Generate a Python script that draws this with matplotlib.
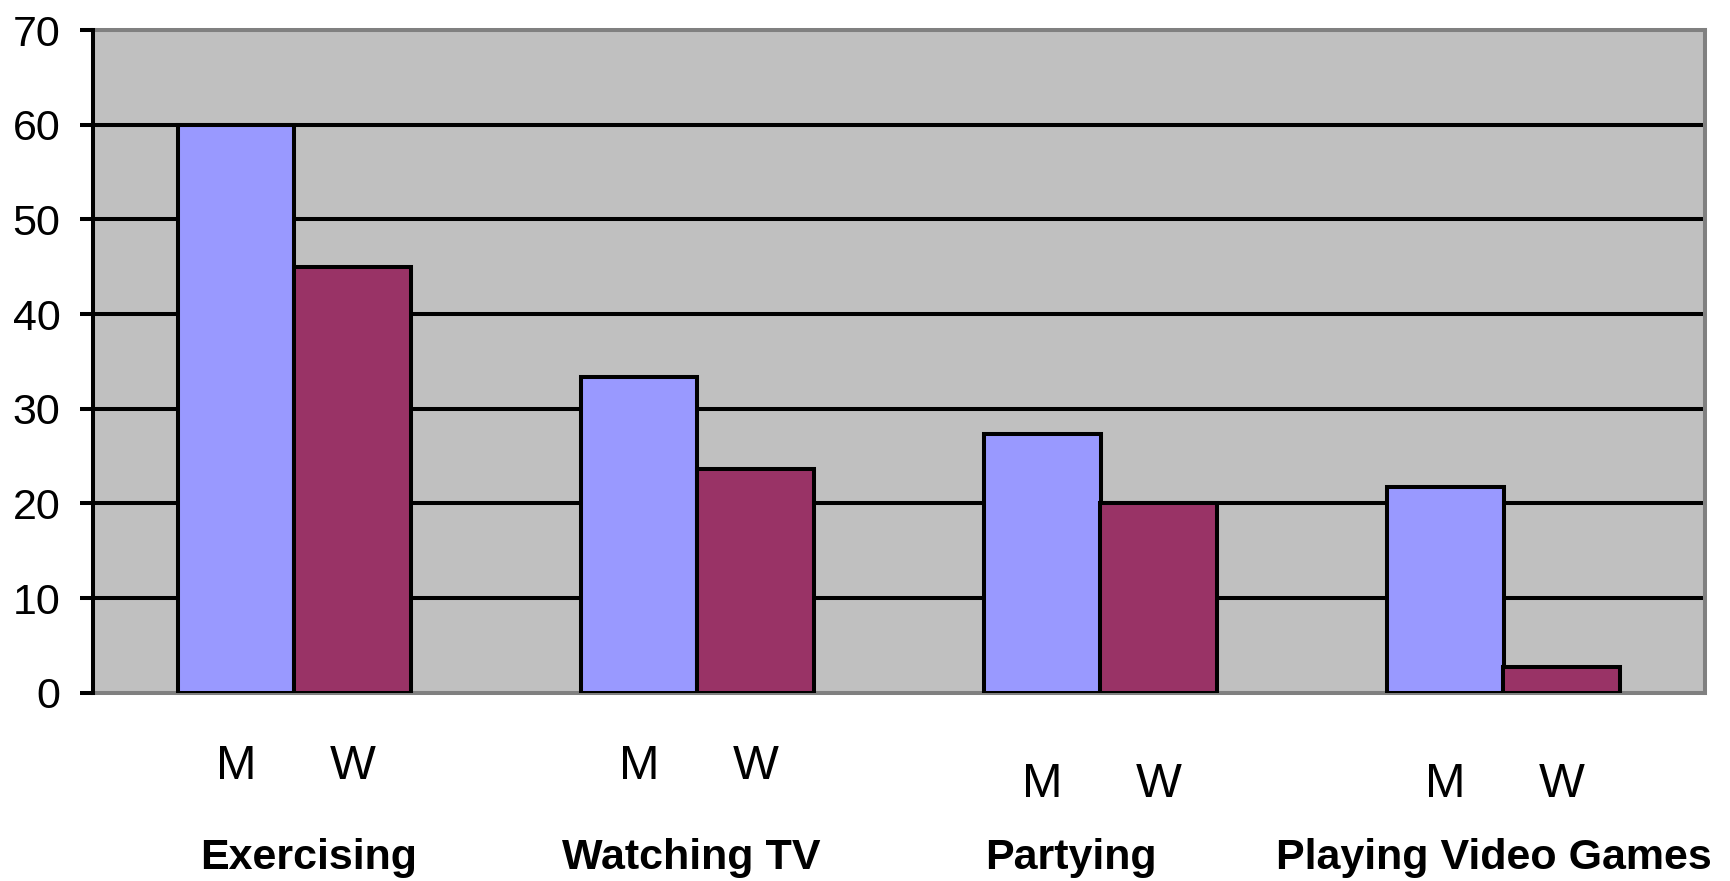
import matplotlib
matplotlib.use("Agg")
import matplotlib.pyplot as plt
import numpy as np

plt.rcParams['font.family'] = ['Liberation Sans', 'DejaVu Sans']

# Survey data: share of men (M) and women (W) per activity
categories = ["Exercising", "Watching TV", "Partying", "Playing Video Games"]
men = [60, 33.3, 27.3, 21.7]
women = [45, 23.6, 20, 2.7]
series_labels = ["M", "W"]
y_ticks = [0, 10, 20, 30, 40, 50, 60, 70]

# Layout constants
W_PX, H_PX, DPI = 1731, 881, 100
bar_w = 0.29
line_w = 2.9
label_shift = [0.036, -0.016, -0.073, -0.024]   # nudges for category names
mw_baseline = [-0.130, -0.130, -0.157, -0.157]  # baseline of the M/W captions

fig = plt.figure(figsize=(W_PX / DPI, H_PX / DPI), dpi=DPI)
ax = fig.add_axes([93 / W_PX, 1 - 692.7 / H_PX, (1705 - 93) / W_PX, (692.7 - 30) / H_PX])
ax.set_facecolor("#C0C0C0")

x = np.arange(len(categories))
ax.bar(x - bar_w / 2, men, bar_w, color="#9999FF", edgecolor="black", linewidth=line_w, zorder=3)
ax.bar(x + bar_w / 2, women, bar_w, color="#993366", edgecolor="black", linewidth=line_w, zorder=3)

# Horizontal gridlines (interior only)
for v in y_ticks[1:-1]:
    ax.axhline(v, color="black", linewidth=line_w, zorder=1)

ax.set_xlim(-0.5, len(categories) - 0.5)
ax.set_ylim(0, 70)
ax.set_yticks(y_ticks)
ax.set_yticklabels([str(t) for t in y_ticks], fontsize=31)
ax.tick_params(axis="y", direction="out", length=9.5, width=line_w, pad=14, color="black")
ax.set_xticks([])

for side in ["top", "right", "bottom"]:
    ax.spines[side].set_color("#808080")
    ax.spines[side].set_linewidth(line_w)
ax.spines["left"].set_color("black")
ax.spines["left"].set_linewidth(line_w)
ax.spines["left"].set_zorder(4)

trans = ax.get_xaxis_transform()
for i, cat in enumerate(categories):
    for j, lab in enumerate(series_labels):
        xc = x[i] + (j - 0.5) * bar_w
        ax.text(xc, mw_baseline[i], lab, transform=trans, ha="center", va="baseline",
                fontsize=35, clip_on=False)
    ax.text(x[i] + label_shift[i], -0.266, cat, transform=trans, ha="center", va="baseline",
            fontsize=31, fontweight="bold", clip_on=False)

fig.savefig("out.png", dpi=DPI)
